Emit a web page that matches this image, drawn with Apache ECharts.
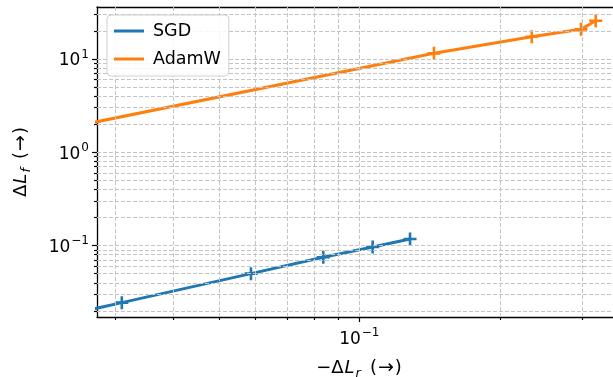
<!DOCTYPE html>
<html><head><meta charset="utf-8">
<script src="https://cdn.jsdelivr.net/npm/echarts@6/dist/echarts.min.js"></script>
<style>html,body{margin:0;padding:0;background:#fff}#c{width:613px;height:377px}</style>
</head><body><div id="c"></div>
<script>
// ---- data ----
const seriesNames = ['SGD', 'AdamW'];
const sgdX = [0.025, 0.0310, 0.0586, 0.0837, 0.1068, 0.1284];
const sgdY = [0.0193, 0.0245, 0.0501, 0.0751, 0.0968, 0.1179];
const adamX = [0.025, 0.1445, 0.2340, 0.2983, 0.3208];
const adamY = [1.935, 11.48, 17.29, 20.75, 25.64];
const xRange = [0.02743, 0.3634];
const yRange = [0.0172, 36];
const xMajor = [0.1];
const xMinor = [0.03, 0.04, 0.05, 0.06, 0.07, 0.08, 0.09, 0.2, 0.3];
const yMajor = [0.1, 1, 10];
const yMinor = [0.02, 0.03, 0.04, 0.05, 0.06, 0.07, 0.08, 0.09, 0.2, 0.3, 0.4, 0.5, 0.6, 0.7, 0.8, 0.9, 2, 3, 4, 5, 6, 7, 8, 9, 20, 30];
const colors = ['#1f77b4', '#ff7f0e'];

const FONT = 'DejaVu Sans';
const plus = 'path://M-1,-5L1,-5L1,-1L5,-1L5,1L1,1L1,5L-1,5L-1,1L-5,1L-5,-1L-1,-1Z';
const supFmt = v => {
  const e = Math.round(Math.log10(v));
  return '{b|10}{s|' + String(e).replace('-', '\u2212') + '}';
};
const tickRich = {
  b: {fontFamily: FONT, fontSize: 17, color: '#000', lineHeight: 21, verticalAlign: 'bottom'},
  s: {fontFamily: FONT, fontSize: 12, color: '#000', lineHeight: 21, verticalAlign: 'top', padding: [0, 0, 0, 1]}
};
const nameRich = {
  n: {fontFamily: FONT, fontSize: 18, color: '#000', lineHeight: 23},
  m: {fontFamily: FONT, fontSize: 18, color: '#000', lineHeight: 23, padding: [0, 0, 0, 0]},
  a: {fontFamily: FONT, fontSize: 19, color: '#000', lineHeight: 23, padding: [0, 1, 0, 1]},
  i: {fontFamily: FONT, fontSize: 18, fontStyle: 'italic', color: '#000', lineHeight: 23, padding: [0, 1, 0, 1]},
  sub: {fontFamily: FONT, fontSize: 13, fontStyle: 'italic', color: '#000', lineHeight: 23, verticalAlign: 'bottom', padding: [0, 9, 0, 0]}
};
const axisLineStyle = {color: '#000', width: 1.3};
const tickStyle = {color: '#000', width: 1.2};

function logAxis(range, extra) {
  return Object.assign({
    type: 'log', logBase: 10, min: range[0], max: range[1],
    splitLine: {show: false}, minorTick: {show: false}, minorSplitLine: {show: false}
  }, extra);
}

const chart = echarts.init(document.getElementById('c'), null, {renderer: 'canvas'});
chart.setOption({
  animation: false,
  backgroundColor: '#fff',
  grid: {left: 97, top: 7, right: -8, bottom: 60, containLabel: false, outerBoundsMode: 'none'},
  legend: {
    left: 107, top: 15, orient: 'vertical', z: 50, zlevel: 0,
    data: seriesNames.map(n => ({name: n, icon: 'rect'})),
    itemWidth: 30, itemHeight: 3, itemGap: 10,
    padding: [7, 8, 8, 7],
    backgroundColor: 'rgba(255,255,255,0.85)',
    borderColor: '#d0d0d0', borderWidth: 1, borderRadius: 4,
    textStyle: {fontFamily: FONT, fontSize: 17.5, color: '#000', lineHeight: 18, padding: [0, 0, 0, 4]}
  },
  xAxis: [
    logAxis(xRange, {
      position: 'bottom',
      axisLine: {show: true, onZero: false, lineStyle: axisLineStyle},
      axisTick: {show: true, inside: false, length: 5, customValues: xMajor, lineStyle: tickStyle},
      axisLabel: {show: true, customValues: xMajor, margin: 10, formatter: supFmt, rich: tickRich},
      name: '{m|\u2212}{n|\u0394}{i|L}{sub|r}{n|(}{a|\u2192}{n|)}',
      nameLocation: 'middle', nameGap: 40,
      nameTextStyle: {rich: nameRich}
    }),
    logAxis(xRange, {
      position: 'bottom',
      axisLine: {show: false},
      axisTick: {show: true, inside: false, length: 3, customValues: xMinor, lineStyle: tickStyle},
      axisLabel: {show: false}
    }),
    logAxis(xRange, {
      position: 'top',
      axisLine: {show: true, onZero: false, lineStyle: axisLineStyle},
      axisTick: {show: false}, axisLabel: {show: false}
    })
  ],
  yAxis: [
    logAxis(yRange, {
      position: 'left',
      axisLine: {show: true, onZero: false, lineStyle: axisLineStyle},
      axisTick: {show: true, inside: false, length: 5, customValues: yMajor, lineStyle: tickStyle},
      axisLabel: {show: true, customValues: yMajor, margin: 8, formatter: supFmt, rich: tickRich},
      name: '{n|\u0394}{i|L}{sub|f}{n|(}{a|\u2192}{n|)}',
      nameLocation: 'middle', nameGap: 64, nameRotate: 90,
      nameTextStyle: {rich: nameRich}
    }),
    logAxis(yRange, {
      position: 'left',
      axisLine: {show: false},
      axisTick: {show: true, inside: false, length: 3, customValues: yMinor, lineStyle: tickStyle},
      axisLabel: {show: false}
    })
  ],
  series: [
    {
      type: 'line', name: '_grid', data: [], xAxisIndex: 0, yAxisIndex: 0, z: 1, silent: true,
      markLine: {
        silent: true, symbol: ['none', 'none'], label: {show: false}, animation: false,
        lineStyle: {color: '#c4c4c4', type: [4, 2], width: 1},
        emphasis: {disabled: true},
        data: xMajor.concat(xMinor).map(v => ({xAxis: v}))
          .concat(yMajor.concat(yMinor).map(v => ({yAxis: v})))
      }
    },
    {
      type: 'line', name: seriesNames[0], xAxisIndex: 0, yAxisIndex: 0, z: 3,
      data: sgdX.map((x, i) => [x, sgdY[i]]),
      color: colors[0], lineStyle: {width: 3, color: colors[0]},
      symbol: plus, symbolSize: 13, showSymbol: true, clip: true,
      itemStyle: {color: colors[0]}
    },
    {
      type: 'line', name: seriesNames[1], xAxisIndex: 0, yAxisIndex: 0, z: 3,
      data: adamX.map((x, i) => [x, adamY[i]]),
      color: colors[1], lineStyle: {width: 3, color: colors[1]},
      symbol: plus, symbolSize: 13, showSymbol: true, clip: true,
      itemStyle: {color: colors[1]}
    }
  ]
});
</script>
</body></html>
